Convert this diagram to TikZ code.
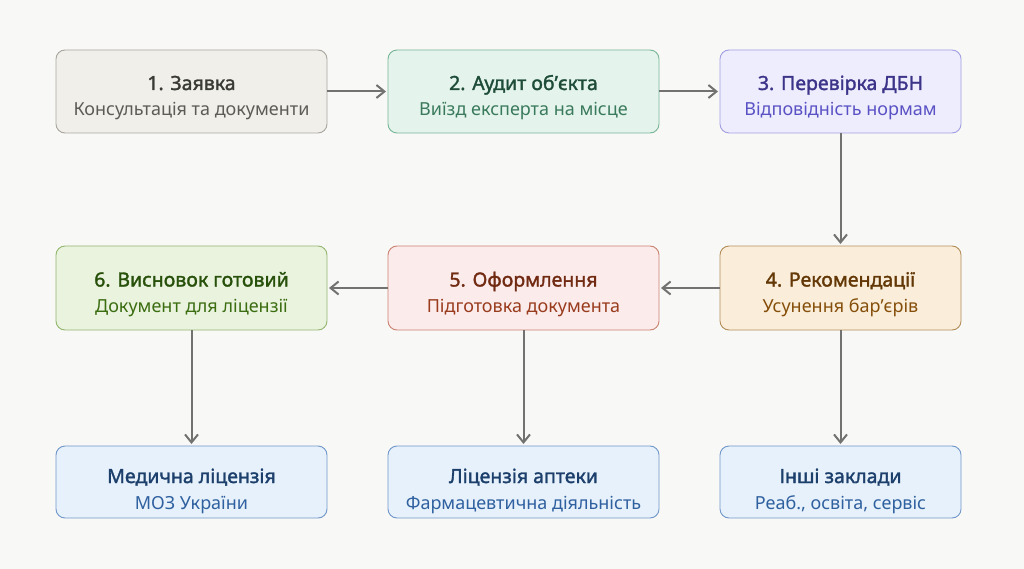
\documentclass[tikz,border=0pt]{standalone}
\usepackage{fontspec}
\setmainfont{Noto Sans}
\newfontfamily\ttlfont{Noto Sans}[FakeBold=1.6]
\usetikzlibrary{arrows.meta}
\definecolor{bg}{HTML}{F8F8F6}
\definecolor{arr}{HTML}{727270}
\definecolor{gF}{HTML}{F0EFEA}\definecolor{gD}{HTML}{A9A69E}\definecolor{gT}{HTML}{3A3A36}\definecolor{gS}{HTML}{5C5B56}
\definecolor{tF}{HTML}{E4F4EC}\definecolor{tD}{HTML}{78B497}\definecolor{tT}{HTML}{1E4C38}\definecolor{tS}{HTML}{3A7A5C}
\definecolor{pF}{HTML}{EEEDFD}\definecolor{pD}{HTML}{A29EE2}\definecolor{pT}{HTML}{3C3489}\definecolor{pS}{HTML}{5A52C4}
\definecolor{aF}{HTML}{FAEEDA}\definecolor{aD}{HTML}{B38D58}\definecolor{aT}{HTML}{633806}\definecolor{aS}{HTML}{854F0B}
\definecolor{rF}{HTML}{FCEBEB}\definecolor{rD}{HTML}{CB8272}\definecolor{rT}{HTML}{712B13}\definecolor{rS}{HTML}{993C1D}
\definecolor{lF}{HTML}{EAF3DE}\definecolor{lD}{HTML}{93B670}\definecolor{lT}{HTML}{27500A}\definecolor{lS}{HTML}{3B6D11}
\definecolor{bF}{HTML}{E6F1FB}\definecolor{bD}{HTML}{7097C9}\definecolor{bT}{HTML}{1C3F6C}\definecolor{bS}{HTML}{2F609F}
\tikzset{
  box/.style={draw, rounded corners=9pt, line width=0.9pt, inner sep=0pt, align=center},
  ttl/.style={font=\ttlfont\fontsize{19.5}{23}\selectfont, inner sep=0pt},
  sub/.style={font=\fontsize{18}{21}\selectfont, inner sep=0pt},
  conn/.style={draw=arr, line width=2pt, shorten >=2pt, -{Straight Barb[length=8pt,width=13pt,line width=2pt]}},
}
\newcommand{\mkbox}[9]{%
  % #1 name, #2 x1, #3 y1, #4 x2, #5 y2, #6 style letter, #7 title, #8 sub, #9 baseline offset
  \path[box, draw=#6D, fill=#6F] (#2pt,-#3pt) rectangle (#4pt,-#5pt);
  \coordinate (#1) at ({(#2+#4)/2*1pt}, {-(#3+#5)/2*1pt});
  \node[ttl, text=#6T, anchor=base] (#1t) at ([yshift=-#9pt]#1) {#7};
  \node[sub, text=#6S, anchor=base] (#1s) at ([yshift={-(#9+26)*1pt}]#1) {#8};
  \coordinate (#1N) at ({(#2+#4)/2*1pt}, -#3pt);
  \coordinate (#1S) at ({(#2+#4)/2*1pt}, -#5pt);
  \coordinate (#1W) at (#2pt, {-(#3+#5)/2*1pt});
  \coordinate (#1E) at (#4pt, {-(#3+#5)/2*1pt});
}
\begin{document}
\begin{tikzpicture}
\fill[bg] (0,0) rectangle (1024pt,-569pt);
\useasboundingbox (0,0) rectangle (1024pt,-569pt);
\mkbox{a}{56}{50}{327}{133}{g}{1. Заявка}{Консультація та документи}{-1.5}
\mkbox{b}{388}{50}{659}{133}{t}{2. Аудит обʼєкта}{Виїзд експерта на місце}{-1.5}
\mkbox{c}{720}{50}{961}{133}{p}{3. Перевірка ДБН}{Відповідність нормам}{-1.5}
\mkbox{d}{720}{246}{961}{330}{a}{4. Рекомендації}{Усунення барʼєрів}{-1.5}
\mkbox{e}{388}{246}{659}{330}{r}{5. Оформлення}{Підготовка документа}{-1.5}
\mkbox{f}{56}{246}{327}{330}{l}{6. Висновок готовий}{Документ для ліцензії}{-1.5}
\mkbox{g}{56}{446}{327}{518}{b}{Медична ліцензія}{МОЗ України}{1}
\mkbox{h}{388}{446}{659}{518}{b}{Ліцензія аптеки}{Фармацевтична діяльність}{1}
\mkbox{i}{720}{446}{961}{518}{b}{Інші заклади}{Реаб., освіта, сервіс}{1}
\draw[conn] (aE) -- (bW);
\draw[conn] (bE) -- (cW);
\draw[conn] (cS) -- (dN);
\draw[conn] (dW) -- (eE);
\draw[conn] (eW) -- (fE);
\draw[conn] (fS) -- (gN);
\draw[conn] (eS) -- (hN);
\draw[conn] (dS) -- (iN);
\end{tikzpicture}
\end{document}
